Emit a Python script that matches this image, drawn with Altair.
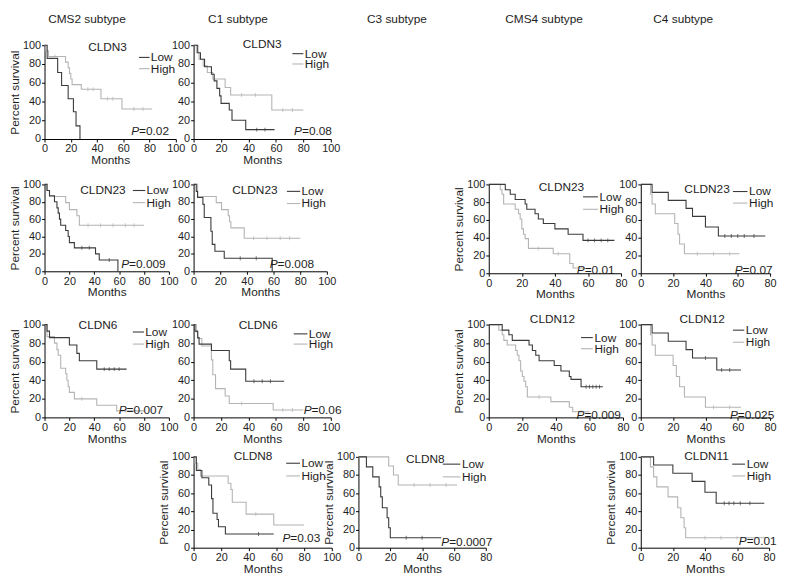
import altair as alt
import pandas as pd

FONT = "Liberation Sans"
DARK = "#3b3b3b"
LIGHT = "#b4b4b4"
INK = "#1e1e1e"

HEADERS = ["CMS2 subtype", "C1 subtype", "C3 subtype", "CMS4 subtype", "C4 subtype"]

# Kaplan-Meier step points: (months, % survival); last point = end of follow-up
CMS2_CLDN3_LOW = [(0,100),(2,86),(10,71),(13,57),(18,43),(22,29),(24,14),(27,0)]
CMS2_CLDN3_HIGH = [(0,100),(1,94),(3,88),(16,82),(18,76),(19,70),(20,64),(21,58),(28,53),(43,43),(59,32),(82,32)]
CMS2_CLDN3_LOW_C = []
CMS2_CLDN3_HIGH_C = [8, 33, 37, 48, 52, 68, 75]

C1_CLDN3_LOW = [(0,100),(3,92),(5,85),(8,77),(13,69),(15,62),(17,54),(19,46),(20,38),(26,31),(28,20),(38,10),(59,10)]
C1_CLDN3_HIGH = [(0,100),(2,92),(4,85),(7,78),(10,71),(14,64),(23,55),(27,47),(57,31),(80,31)]
C1_CLDN3_LOW_C = [46, 52]
C1_CLDN3_HIGH_C = [35, 45, 65, 72]

CMS2_CLDN23_LOW = [(0,100),(2,93),(4,87),(8,80),(10,73),(11,67),(12,60),(13,53),(17,47),(19,40),(20,33),(24,27),(41,20),(44,13),(59,0)]
CMS2_CLDN23_HIGH = [(0,100),(2,93),(4,86),(17,79),(20,71),(26,64),(28,53),(80,53)]
CMS2_CLDN23_LOW_C = [30, 36, 52]
CMS2_CLDN23_HIGH_C = [35, 45, 55, 65, 72]

C1_CLDN23_LOW = [(0,100),(2,92),(3,85),(7,77),(8,62),(13,46),(14,31),(16,23),(23,15),(59,0)]
C1_CLDN23_HIGH = [(0,100),(3,86),(17,79),(21,71),(26,64),(27,57),(28,50),(38,38),(80,38)]
C1_CLDN23_LOW_C = [35, 47]
C1_CLDN23_HIGH_C = [45, 55, 65, 72]

CMS2_CLDN6_LOW = [(0,100),(2,93),(4,86),(20,78),(26,69),(28,61),(42,52),(66,52)]
CMS2_CLDN6_HIGH = [(0,100),(2,87),(8,80),(10,73),(11,67),(13,53),(17,47),(18,40),(19,33),(20,27),(24,20),(42,13),(58,7),(80,7)]
CMS2_CLDN6_LOW_C = [48, 52, 56, 60]
CMS2_CLDN6_HIGH_C = [30, 65, 72]

C1_CLDN6_LOW = [(0,100),(1,93),(3,86),(4,79),(13,72),(26,61),(27,52),(38,39),(66,39)]
C1_CLDN6_HIGH = [(0,100),(2,92),(3,85),(6,77),(13,62),(14,46),(16,31),(23,23),(26,15),(58,8),(80,8)]
C1_CLDN6_LOW_C = [44, 50, 56]
C1_CLDN6_HIGH_C = [35, 65, 72]

C1_CLDN8_LOW = [(0,100),(2,85),(6,77),(11,69),(13,54),(14,38),(17,31),(18,23),(23,15),(58,15)]
C1_CLDN8_HIGH = [(0,100),(1,93),(3,86),(5,79),(25,71),(27,64),(28,50),(38,37),(58,25),(80,25)]
C1_CLDN8_LOW_C = [47]
C1_CLDN8_HIGH_C = [45]

C3_CLDN8_LOW = [(0,100),(5,89),(9,78),(13,67),(14,56),(15,44),(18,33),(19,22),(20,11),(52,11)]
C3_CLDN8_HIGH = [(0,100),(19,90),(22,80),(25,69),(62,69)]
C3_CLDN8_LOW_C = [30, 40]
C3_CLDN8_HIGH_C = [35, 45, 55]

CMS4_CLDN23_LOW = [(0,100),(10,94),(13,89),(16,83),(22,78),(23,72),(28,67),(30,61),(33,56),(40,50),(48,44),(57,37),(76,37)]
CMS4_CLDN23_HIGH = [(0,100),(7,94),(8,89),(9,78),(16,72),(18,67),(19,61),(20,50),(21,44),(22,39),(24,28),(39,22),(49,11),(51,6),(58,6)]
CMS4_CLDN23_LOW_C = [60, 64, 68, 72]
CMS4_CLDN23_HIGH_C = [30, 42]

C4_CLDN23_LOW = [(0,100),(7,91),(17,82),(28,73),(32,64),(40,52),(48,42),(77,42)]
C4_CLDN23_HIGH = [(0,100),(6,89),(7,78),(9,67),(21,56),(23,44),(24,33),(27,22),(61,22)]
C4_CLDN23_LOW_C = [52, 56, 60, 64, 70]
C4_CLDN23_HIGH_C = [35, 45, 55]

CMS4_CLDN12_LOW = [(0,100),(8,94),(12,89),(14,83),(24,78),(26,72),(28,67),(30,61),(39,56),(43,50),(48,44),(49,41),(55,33),(68,33)]
CMS4_CLDN12_HIGH = [(0,100),(6,94),(8,89),(9,83),(11,78),(16,72),(17,67),(18,61),(19,50),(20,44),(21,39),(22,33),(23,22),(37,17),(48,11),(50,6),(60,6)]
CMS4_CLDN12_LOW_C = [58, 60, 62, 64, 66]
CMS4_CLDN12_HIGH_C = [30, 55]

C4_CLDN12_LOW = [(0,100),(7,91),(17,82),(28,73),(32,64),(47,51),(62,51)]
C4_CLDN12_HIGH = [(0,100),(6,89),(7,78),(9,67),(20,56),(22,44),(24,33),(27,22),(40,11),(62,11)]
C4_CLDN12_LOW_C = [40, 50, 55]
C4_CLDN12_HIGH_C = [45, 55]

C4_CLDN11_LOW = [(0,100),(8,91),(20,82),(32,73),(40,61),(47,49),(77,49)]
C4_CLDN11_HIGH = [(0,100),(6,89),(8,78),(10,67),(17,56),(23,44),(25,33),(27,22),(28,11),(78,11)]
C4_CLDN11_LOW_C = [52, 55, 58, 62, 68]
C4_CLDN11_HIGH_C = [40, 50, 60]

# key: (gene, low, high, low censored, high censored, P value, x-axis max)
PANELS = {
    "A": ("CLDN3", CMS2_CLDN3_LOW, CMS2_CLDN3_HIGH, CMS2_CLDN3_LOW_C, CMS2_CLDN3_HIGH_C, "0.02", 100),
    "B": ("CLDN3", C1_CLDN3_LOW, C1_CLDN3_HIGH, C1_CLDN3_LOW_C, C1_CLDN3_HIGH_C, "0.08", 100),
    "C": ("CLDN23", CMS2_CLDN23_LOW, CMS2_CLDN23_HIGH, CMS2_CLDN23_LOW_C, CMS2_CLDN23_HIGH_C, "0.009", 100),
    "D": ("CLDN23", C1_CLDN23_LOW, C1_CLDN23_HIGH, C1_CLDN23_LOW_C, C1_CLDN23_HIGH_C, "0.008", 100),
    "E": ("CLDN6", CMS2_CLDN6_LOW, CMS2_CLDN6_HIGH, CMS2_CLDN6_LOW_C, CMS2_CLDN6_HIGH_C, "0.007", 100),
    "F": ("CLDN6", C1_CLDN6_LOW, C1_CLDN6_HIGH, C1_CLDN6_LOW_C, C1_CLDN6_HIGH_C, "0.06", 100),
    "G": ("CLDN8", C1_CLDN8_LOW, C1_CLDN8_HIGH, C1_CLDN8_LOW_C, C1_CLDN8_HIGH_C, "0.03", 100),
    "H": ("CLDN8", C3_CLDN8_LOW, C3_CLDN8_HIGH, C3_CLDN8_LOW_C, C3_CLDN8_HIGH_C, "0.0007", 80),
    "I": ("CLDN23", CMS4_CLDN23_LOW, CMS4_CLDN23_HIGH, CMS4_CLDN23_LOW_C, CMS4_CLDN23_HIGH_C, "0.01", 80),
    "J": ("CLDN23", C4_CLDN23_LOW, C4_CLDN23_HIGH, C4_CLDN23_LOW_C, C4_CLDN23_HIGH_C, "0.07", 80),
    "K": ("CLDN12", CMS4_CLDN12_LOW, CMS4_CLDN12_HIGH, CMS4_CLDN12_LOW_C, CMS4_CLDN12_HIGH_C, "0.009", 80),
    "L": ("CLDN12", C4_CLDN12_LOW, C4_CLDN12_HIGH, C4_CLDN12_LOW_C, C4_CLDN12_HIGH_C, "0.025", 80),
    "M": ("CLDN11", C4_CLDN11_LOW, C4_CLDN11_HIGH, C4_CLDN11_LOW_C, C4_CLDN11_HIGH_C, "0.01", 80),
}

# ---------------- layout: regular grid (layout pixels) ----------------
COL_X = [41, 192, 359, 491, 645]       # plot left edge of each subtype column
ROW_Y = [29, 170, 312, 446]            # plot top edge of each panel row
Y_H = 21                               # header row position
HEADER_CENTERS = [84, 237, 398, 547, 688]

LAYOUT = {
    # key: row, subtype column, width, height, y-title, gene(x,y), legend(x0,x1,xtext,ylow,yhigh), p(x,y) in data units
    "A": dict(row=0, col=0, w=133, h=95, yt=True, gene=(48, 98), leg=(72, 80, 81, 87, 75), p=(72, 8)),
    "B": dict(row=0, col=1, w=139, h=95, yt=False, gene=(50, 101), leg=(72, 80, 81, 91, 80), p=(79, 8)),
    "C": dict(row=1, col=0, w=126, h=88, yt=True, gene=(47, 94), leg=(71, 81, 82, 93, 79), p=(68, 8)),
    "D": dict(row=1, col=1, w=135, h=88, yt=False, gene=(46, 94), leg=(70, 80, 81, 92, 78), p=(63, 8)),
    "I": dict(row=1, col=3, w=134, h=90, yt=True, gene=(44, 97), leg=(57, 66, 67, 86, 72), p=(58, 4)),
    "J": dict(row=1, col=4, w=131, h=90, yt=False, gene=(41, 95), leg=(57, 66, 67, 92, 79), p=(63, 4)),
    "E": dict(row=2, col=0, w=126, h=94, yt=True, gene=(43, 100), leg=(71, 80, 81, 92, 79), p=(66, 8)),
    "F": dict(row=2, col=1, w=139, h=94, yt=False, gene=(47, 100), leg=(73, 83, 84, 90, 79), p=(86, 8)),
    "K": dict(row=2, col=3, w=136, h=94, yt=True, gene=(38, 106), leg=(55, 62, 63, 86, 74), p=(57, 3)),
    "L": dict(row=2, col=4, w=131, h=94, yt=False, gene=(38, 106), leg=(57, 64, 65, 94, 81), p=(60, 3)),
    "G": dict(row=3, col=1, w=140, h=92, yt=True, gene=(43, 101), leg=(67, 77, 78, 93, 79), p=(70, 11)),
    "H": dict(row=3, col=2, w=129, h=92, yt=True, gene=(42, 98), leg=(53, 64, 65, 92, 78), p=(57, 6)),
    "M": dict(row=3, col=4, w=130, h=92, yt=True, gene=(41, 101), leg=(57, 65, 66, 92, 79), p=(66, 7)),
}

COLOR = alt.Scale(domain=["Low", "High"], range=[DARK, LIGHT])


def surv_at(pts, t):
    s = pts[0][1]
    for tt, ss in pts:
        if tt <= t:
            s = ss
    return s


def spacer(w, h, title=None):
    ch = alt.Chart(pd.DataFrame({"v": [0]})).mark_point(size=0, opacity=0).encode(
        x=alt.X("v:Q", axis=None), y=alt.Y("v:Q", axis=None)
    ).properties(width=max(1, int(round(w))), height=max(1, int(round(h))))
    if title:
        ch = ch.properties(title=alt.TitleParams(
            text=title, fontSize=12, fontWeight="normal", anchor="middle",
            baseline="bottom", offset=0, color=INK, font=FONT, frame="group"))
    return ch


def panel(key):
    gene, low, high, low_c, high_c, pval, xmax = PANELS[key]
    lay = LAYOUT[key]
    xs = alt.Scale(domain=[0, xmax], nice=False)
    ys = alt.Scale(domain=[0, 100], nice=False)
    xaxis = alt.Axis(values=list(range(0, xmax + 1, 20)), title="Months", labelFlush=False,
                     labelOverlap=False)
    if lay["yt"]:
        yaxis = alt.Axis(values=[0, 20, 40, 60, 80, 100], title="Percent survival", labelOverlap=False)
    else:
        yaxis = alt.Axis(values=[0, 20, 40, 60, 80, 100], title=None, labelOverlap=False)

    def X(f="x"):
        return alt.X(f + ":Q", scale=xs, axis=xaxis)

    def Y(f="y"):
        return alt.Y(f + ":Q", scale=ys, axis=yaxis)

    layers = []
    for grp, pts in (("High", high), ("Low", low)):
        df = pd.DataFrame({"x": [p[0] for p in pts], "y": [p[1] for p in pts], "grp": grp})
        layers.append(alt.Chart(df).mark_line(interpolate="step-after", strokeWidth=1.1).encode(
            x=X(), y=Y(), color=alt.Color("grp:N", scale=COLOR, legend=None)))
    cens = []
    for grp, pts, cs in (("High", high, high_c), ("Low", low, low_c)):
        for c in cs:
            cens.append({"x": c, "y": surv_at(pts, c), "grp": grp})
    if cens:
        layers.append(alt.Chart(pd.DataFrame(cens)).mark_tick(
            orient="vertical", size=4, thickness=1).encode(
            x=X(), y=Y(), color=alt.Color("grp:N", scale=COLOR, legend=None)))

    gx, gy = lay["gene"]
    layers.append(alt.Chart(pd.DataFrame([{"x": gx, "y": gy, "t": gene}])).mark_text(
        fontSize=12, align="center", baseline="middle", color=INK, font=FONT).encode(
        x=X(), y=Y(), text="t:N"))

    lx0, lx1, lxt, lyl, lyh = lay["leg"]
    leg = pd.DataFrame([
        {"x": lx0, "x2": lx1, "xt": lxt, "y": lyl, "grp": "Low"},
        {"x": lx0, "x2": lx1, "xt": lxt, "y": lyh, "grp": "High"},
    ])
    layers.append(alt.Chart(leg).mark_rule(strokeWidth=1.1).encode(
        x=X(), x2="x2:Q", y=Y(), color=alt.Color("grp:N", scale=COLOR, legend=None)))
    layers.append(alt.Chart(leg).mark_text(
        fontSize=12, align="left", baseline="middle", color=INK, font=FONT).encode(
        x=X("xt"), y=Y(), text="grp:N"))

    px, py = lay["p"]
    layers.append(alt.Chart(pd.DataFrame([{"x": px, "y": py, "t": "P"}])).mark_text(
        fontSize=12, align="right", baseline="middle", fontStyle="italic", color=INK, font=FONT).encode(
        x=X(), y=Y(), text="t:N"))
    layers.append(alt.Chart(pd.DataFrame([{"x": px, "y": py, "t": "=" + pval}])).mark_text(
        fontSize=12, align="left", baseline="middle", color=INK, font=FONT).encode(
        x=X(), y=Y(), text="t:N"))

    return alt.layer(*layers).properties(width=lay["w"], height=lay["h"])


# ---- regular grid, align "each": 9 columns (subtype / gap alternating), 9 rows (header, then gap / panel) ----
NCOL = 9
col_w = {}
for s in range(5):
    col_w[2 * s] = max(LAYOUT[k]["w"] for k in LAYOUT if LAYOUT[k]["col"] == s)
for s in range(4):
    col_w[2 * s + 1] = COL_X[s + 1] - COL_X[s] - col_w[2 * s]

cells = []
# header row: titles centred on subtype columns; gap cells carry the gap widths
for j in range(NCOL):
    if j % 2 == 0:
        s = j // 2
        cells.append(spacer(2 * (HEADER_CENTERS[s] - COL_X[s]), 1, HEADERS[s]))
    else:
        cells.append(spacer(col_w[j], 1))

prev_bottom = Y_H + 1
for r in range(4):
    gap = ROW_Y[r] - prev_bottom
    for j in range(NCOL):
        cells.append(spacer(1, gap))
    by_col = {LAYOUT[k]["col"]: k for k in LAYOUT if LAYOUT[k]["row"] == r}
    for j in range(NCOL):
        if j % 2 == 0 and (j // 2) in by_col:
            cells.append(panel(by_col[j // 2]))
        else:
            cells.append(spacer(1, 1))
    prev_bottom = ROW_Y[r] + max(LAYOUT[k]["h"] for k in by_col.values())

chart = alt.concat(*cells, columns=NCOL, spacing=0, bounds="flush", align="each").properties(
    padding=0, autosize=alt.AutoSizeParams(type="pad")
).configure_view(stroke="transparent").configure_axis(
    labelFont=FONT, titleFont=FONT, labelFontSize=11, titleFontSize=12, titleFontWeight="normal",
    labelColor=INK, titleColor=INK, domainColor="#000000", tickColor="#000000", tickSize=3,
    labelPadding=1, titlePadding=1, grid=False, domainWidth=1, tickWidth=1
).configure_text(font=FONT)

chart.save("out.html", embed_options={"renderer": "svg", "actions": False})
